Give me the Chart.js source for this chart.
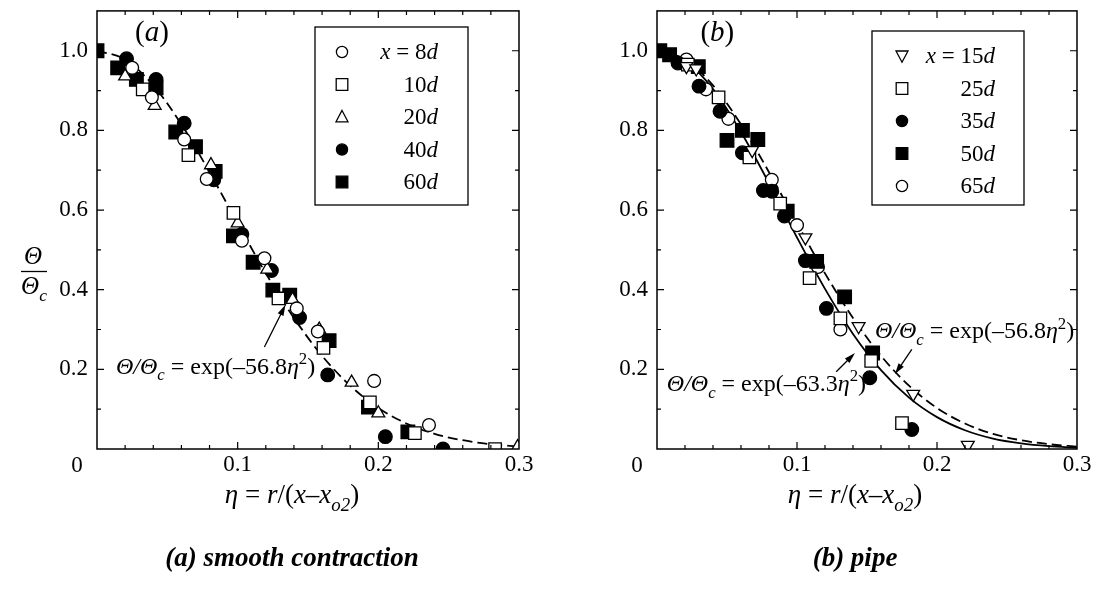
<!DOCTYPE html>
<html>
<head>
<meta charset="utf-8">
<script src="https://cdn.jsdelivr.net/npm/chart.js@4.4.1/dist/chart.umd.min.js"></script>
<style>
    html, body { margin: 0; padding: 0; background: #fff; }
    #wrap { position: relative; width: 1104px; height: 590px; }
    canvas { position: absolute; top: 0; }
</style>
</head>
<body>
<div id="wrap">
    <canvas id="chartA" width="552" height="590" style="left:0"></canvas>
    <canvas id="chartB" width="552" height="590" style="left:552px"></canvas>
</div>
<script>
// fitted curves, read at eta = 0, 0.02, ... 0.3
const etaCurve = [0, 0.02, 0.04, 0.06, 0.08, 0.10, 0.12, 0.14, 0.16, 0.18, 0.20, 0.22, 0.24, 0.26, 0.28, 0.30];
const fit568 = [1, 0.978, 0.913, 0.815, 0.695, 0.567, 0.441, 0.329, 0.234, 0.159, 0.103, 0.064, 0.038, 0.022, 0.012, 0.006];
const fit633 = [1, 0.975, 0.904, 0.796, 0.667, 0.531, 0.402, 0.289, 0.198, 0.129, 0.080, 0.047, 0.026, 0.014, 0.007, 0.003];

// (a) smooth contraction  [eta, theta/theta_c]
const smooth8d = [[0.025, 0.957], [0.039, 0.883], [0.062, 0.777], [0.078, 0.678], [0.103, 0.523], [0.119, 0.479], [0.142, 0.353], [0.157, 0.295], [0.197, 0.171], [0.236, 0.060]];
const smooth10d = [[0.0325, 0.903], [0.065, 0.738], [0.097, 0.593], [0.129, 0.378], [0.161, 0.254], [0.194, 0.117], [0.226, 0.040], [0.283, 0.0]];
const smooth20d = [[0.020, 0.936], [0.041, 0.862], [0.081, 0.713], [0.100, 0.567], [0.121, 0.451], [0.139, 0.375], [0.158, 0.300], [0.181, 0.167], [0.200, 0.090], [0.299, 0.005]];
const smooth40d = [[0.021, 0.980], [0.042, 0.928], [0.062, 0.818], [0.083, 0.676], [0.103, 0.539], [0.124, 0.448], [0.144, 0.330], [0.164, 0.186], [0.205, 0.031], [0.246, 0.0]];
const smooth60d = [[0.0, 1.0], [0.0147, 0.957], [0.028, 0.928], [0.042, 0.907], [0.056, 0.796], [0.070, 0.759], [0.084, 0.697], [0.097, 0.535], [0.111, 0.469], [0.125, 0.399], [0.137, 0.386], [0.165, 0.272], [0.193, 0.105], [0.221, 0.043]];

// (b) pipe
const pipe15d = [[0.021, 0.961], [0.028, 0.955], [0.068, 0.750], [0.106, 0.531], [0.144, 0.308], [0.183, 0.138], [0.222, 0.010]];
const pipe25d = [[0.022, 0.965], [0.044, 0.883], [0.066, 0.732], [0.088, 0.616], [0.109, 0.429], [0.131, 0.328], [0.153, 0.221], [0.175, 0.065]];
const pipe35d = [[0.015, 0.969], [0.030, 0.911], [0.045, 0.848], [0.061, 0.744], [0.076, 0.649], [0.082, 0.647], [0.091, 0.585], [0.106, 0.473], [0.121, 0.353], [0.152, 0.179], [0.182, 0.049]];
const pipe50d = [[0.002, 1.0], [0.009, 0.990], [0.0295, 0.960], [0.050, 0.775], [0.061, 0.800], [0.072, 0.777], [0.093, 0.597], [0.114, 0.471], [0.134, 0.382], [0.154, 0.241]];
const pipe65d = [[0.021, 0.978], [0.035, 0.903], [0.051, 0.829], [0.082, 0.676], [0.100, 0.562], [0.115, 0.457], [0.131, 0.300]];

const xTickValues = [0.1, 0.2, 0.3];
const xTickLabels = ['0.1', '0.2', '0.3'];
const yTickValues = [0.2, 0.4, 0.6, 0.8, 1.0];
const yTickLabels = ['0.2', '0.4', '0.6', '0.8', '1.0'];
const smoothLegend = ['8', '10', '20', '40', '60'];
const pipeLegend = ['15', '25', '35', '50', '65'];

const FONT = '"Liberation Serif", "Times New Roman", serif';

const toXY = arr => arr.map(p => ({ x: p[0], y: p[1] }));
const curve = vals => etaCurve.map((e, i) => ({ x: e, y: vals[i] }));

// marker kinds: [pointStyle, filled, rotation, radius]
const MARK = {
    circle: ['circle', false, 0, 6.4],
    square: ['rect', false, 0, 8.8],
    tri: ['triangle', false, 0, 7.4],
    dtri: ['triangle', false, 180, 7.4],
    fcircle: ['circle', true, 0, 6.8],
    fsquare: ['rect', true, 0, 9.6]
};

function markerSet(data, kind) {
    const [style, filled, rot, r] = MARK[kind];
    return {
        type: 'scatter', data: toXY(data), order: 1, clip: 0,
        pointStyle: style, pointRotation: rot, pointRadius: r, pointHoverRadius: r,
        pointBorderWidth: 1.3, pointBorderColor: '#000',
        pointBackgroundColor: filled ? '#000' : '#fff', showLine: false
    };
}

function curveSet(vals, dashed) {
    return {
        type: 'line', data: curve(vals), order: 5, clip: 0,
        borderColor: '#000', borderWidth: 1.8, borderDash: dashed ? [10, 5] : [],
        pointRadius: 0, cubicInterpolationMode: 'monotone', fill: false
    };
}

// rich text: segments [text, style] style: n, i, isub, sup
function richWidth(ctx, segs, size) {
    let w = 0;
    segs.forEach(([t, s]) => {
        const sz = (s === 'isub' || s === 'sup') ? size * 0.7 : size;
        ctx.font = `${s === 'n' || s === 'sup' ? '' : 'italic '}${sz}px ${FONT}`;
        w += ctx.measureText(t).width;
    });
    return w;
}
function drawRich(ctx, segs, x, y, size, align = 'left') {
    let cx = x;
    if (align === 'right') cx = x - richWidth(ctx, segs, size);
    if (align === 'center') cx = x - richWidth(ctx, segs, size) / 2;
    ctx.textAlign = 'left';
    ctx.textBaseline = 'alphabetic';
    segs.forEach(([t, s]) => {
        let sz = size, dy = 0;
        if (s === 'isub') { sz = size * 0.7; dy = size * 0.28; }
        if (s === 'sup') { sz = size * 0.7; dy = -size * 0.4; }
        ctx.font = `${s === 'n' || s === 'sup' ? '' : 'italic '}${sz}px ${FONT}`;
        ctx.fillText(t, cx, y + dy);
        cx += ctx.measureText(t).width;
    });
}

function drawArrow(ctx, x1, y1, x2, y2) {
    const a = Math.atan2(y2 - y1, x2 - x1), L = 11, W = 3.2;
    ctx.beginPath();
    ctx.moveTo(x1, y1);
    ctx.lineTo(x2 - Math.cos(a) * L * 0.8, y2 - Math.sin(a) * L * 0.8);
    ctx.lineWidth = 1.3;
    ctx.stroke();
    ctx.beginPath();
    ctx.moveTo(x2, y2);
    ctx.lineTo(x2 - Math.cos(a) * L + Math.sin(a) * W, y2 - Math.sin(a) * L - Math.cos(a) * W);
    ctx.lineTo(x2 - Math.cos(a) * L - Math.sin(a) * W, y2 - Math.sin(a) * L + Math.cos(a) * W);
    ctx.closePath();
    ctx.fill();
}

function legendMark(ctx, kind, x, y) {
    ctx.save();
    ctx.lineWidth = 1.3;
    ctx.strokeStyle = '#000';
    ctx.fillStyle = MARK[kind][1] ? '#000' : '#fff';
    ctx.beginPath();
    if (kind === 'circle' || kind === 'fcircle') ctx.arc(x, y, 5.6, 0, Math.PI * 2);
    else if (kind === 'square' || kind === 'fsquare') ctx.rect(x - 5.8, y - 5.8, 11.6, 11.6);
    else if (kind === 'tri') { ctx.moveTo(x, y - 6.5); ctx.lineTo(x + 6, y + 4.8); ctx.lineTo(x - 6, y + 4.8); ctx.closePath(); }
    else { ctx.moveTo(x, y + 6.2); ctx.lineTo(x + 6, y - 5); ctx.lineTo(x - 6, y - 5); ctx.closePath(); }
    ctx.fill();
    ctx.stroke();
    ctx.restore();
}

function framePlugin(cfg) {
    return {
        id: 'frame' + cfg.tag,
        afterDraw(chart) {
            const { ctx, chartArea: ca, scales: { x, y } } = chart;
            ctx.save();
            ctx.fillStyle = '#000';
            ctx.strokeStyle = '#000';
            // box
            ctx.lineWidth = 1.5;
            ctx.strokeRect(ca.left, ca.top, ca.right - ca.left, ca.bottom - ca.top);
            // inward ticks
            ctx.lineWidth = 1.2;
            ctx.beginPath();
            for (let i = 1; i < 15; i++) {
                const px = x.getPixelForValue(i * 0.02), len = i % 5 === 0 ? 7 : 4;
                ctx.moveTo(px, ca.bottom); ctx.lineTo(px, ca.bottom - len);
                ctx.moveTo(px, ca.top); ctx.lineTo(px, ca.top + len);
            }
            for (let i = 1; i < 11; i++) {
                const py = y.getPixelForValue(i * 0.1), len = i % 2 === 0 ? 7 : 4;
                ctx.moveTo(ca.left, py); ctx.lineTo(ca.left + len, py);
                ctx.moveTo(ca.right, py); ctx.lineTo(ca.right - len, py);
            }
            ctx.stroke();
            // tick labels
            ctx.font = `23px ${FONT}`;
            ctx.textBaseline = 'middle';
            ctx.textAlign = 'center';
            xTickValues.forEach((v, i) => ctx.fillText(xTickLabels[i], x.getPixelForValue(v), ca.bottom + 16));
            ctx.fillText('0', ca.left - 20, ca.bottom + 17);
            ctx.textAlign = 'right';
            yTickValues.forEach((v, i) => ctx.fillText(yTickLabels[i], ca.left - 9, y.getPixelForValue(v)));
            // x title
            drawRich(ctx, [['η', 'i'], [' = ', 'n'], ['r', 'i'], ['/(', 'n'], ['x', 'i'], ['–', 'n'], ['x', 'i'], ['o2', 'isub'], [')', 'n']], cfg.titleX, 503, 27, 'center');
            // panel label
            drawRich(ctx, [['(', 'n'], [cfg.tag, 'i'], [')', 'n']], x.getPixelForValue(cfg.tagAt[0]), y.getPixelForValue(cfg.tagAt[1]), 29);
            // caption
            ctx.font = `italic bold 27px ${FONT}`;
            ctx.textAlign = 'center';
            ctx.textBaseline = 'alphabetic';
            ctx.fillText(cfg.caption, cfg.titleX, 566);
            // legend
            const lg = cfg.legend;
            ctx.lineWidth = 1.3;
            ctx.strokeRect(lg.x, lg.y, lg.w, lg.h);
            lg.labels.forEach((lab, i) => {
                const ry = lg.y + 25 + i * 32.5;
                legendMark(ctx, lg.kinds[i], lg.symX, ry);
                const segs = i === 0 ? [['x', 'i'], [' = ' + lab, 'n'], ['d', 'i']] : [[lab, 'n'], ['d', 'i']];
                drawRich(ctx, segs, lg.textR, ry + 7, 23, 'right');
            });
            // fit annotations
            cfg.notes.forEach(n => {
                drawRich(ctx, [['Θ/Θ', 'i'], ['c', 'isub'], [' = exp(–' + n.k, 'n'], ['η', 'i'], ['2', 'sup'], [')', 'n']],
                    x.getPixelForValue(n.at[0]), y.getPixelForValue(n.at[1]), 24);
                drawArrow(ctx, x.getPixelForValue(n.from[0]), y.getPixelForValue(n.from[1]),
                    x.getPixelForValue(n.to[0]), y.getPixelForValue(n.to[1]));
            });
            // y title (left panel only)
            if (cfg.yTitle) {
                ctx.font = `italic 25px ${FONT}`;
                ctx.textAlign = 'center';
                ctx.textBaseline = 'alphabetic';
                ctx.fillText('Θ', 33, 264);
                ctx.lineWidth = 1.3;
                ctx.beginPath(); ctx.moveTo(21, 271.5); ctx.lineTo(47, 271.5); ctx.stroke();
                drawRich(ctx, [['Θ', 'i'], ['c', 'isub']], 34, 294, 25, 'center');
            }
            ctx.restore();
        }
    };
}

function makeChart(id, datasets, padding, cfg) {
    return new Chart(document.getElementById(id), {
        type: 'scatter',
        data: { datasets },
        options: {
            responsive: false, animation: false, devicePixelRatio: 1,
            layout: { padding },
            scales: {
                x: { type: 'linear', min: 0, max: 0.3, display: false },
                y: { type: 'linear', min: 0, max: 1.1, display: false }
            },
            plugins: { legend: { display: false }, tooltip: { enabled: false } }
        },
        plugins: [framePlugin(cfg)]
    });
}

makeChart('chartA', [
    markerSet(smooth8d, 'circle'),
    markerSet(smooth10d, 'square'),
    markerSet(smooth20d, 'tri'),
    markerSet(smooth40d, 'fcircle'),
    markerSet(smooth60d, 'fsquare'),
    curveSet(fit568, true)
], { left: 97, right: 33, top: 6, bottom: 141 }, {
    tag: 'a', tagAt: [0.027, 1.025], titleX: 292, yTitle: true,
    caption: '(a) smooth contraction',
    legend: { x: 315, y: 27, w: 153, h: 178, symX: 342, textR: 438, labels: smoothLegend, kinds: ['circle', 'square', 'tri', 'fcircle', 'fsquare'] },
    notes: [{ k: '56.8', at: [0.0135, 0.189], from: [0.119, 0.256], to: [0.134, 0.362] }]
});

makeChart('chartB', [
    markerSet(pipe15d, 'dtri'),
    markerSet(pipe25d, 'square'),
    markerSet(pipe35d, 'fcircle'),
    markerSet(pipe50d, 'fsquare'),
    markerSet(pipe65d, 'circle'),
    curveSet(fit568, true),
    curveSet(fit633, false)
], { left: 105, right: 27, top: 6, bottom: 141 }, {
    tag: 'b', tagAt: [0.031, 1.025], titleX: 303, yTitle: false,
    caption: '(b) pipe',
    legend: { x: 320, y: 31, w: 152, h: 174, symX: 350, textR: 443, labels: pipeLegend, kinds: ['dtri', 'square', 'fcircle', 'fsquare', 'circle'] },
    notes: [
        { k: '63.3', at: [0.007, 0.146], from: [0.128, 0.194], to: [0.1414, 0.241] },
        { k: '56.8', at: [0.1557, 0.278], from: [0.182, 0.25], to: [0.170, 0.188] }
    ]
});
</script>
</body>
</html>
